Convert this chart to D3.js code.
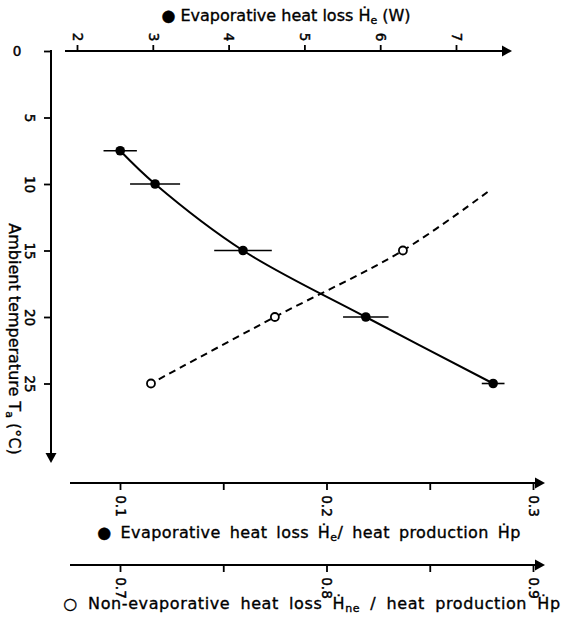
<!DOCTYPE html>
<html>
<head>
<meta charset="utf-8">
<script src="https://cdn.jsdelivr.net/npm/d3@7"></script>
<style>
  html, body { margin: 0; padding: 0; background: #fff; }
  svg { display: block; }
  text { font-family: "DejaVu Sans", "Noto Sans", sans-serif; fill: #000; }
  .ttl { font-size: 16px; stroke: #000; stroke-width: 0.35px; }
  .tk { font-size: 13.5px; stroke: #000; stroke-width: 0.45px; }
</style>
</head>
<body>
<svg id="chart" width="564" height="625"></svg>
<script>
// ---------------- data ----------------
const temps = [7.5, 10, 15, 20, 25];                  // ambient temperature (°C)
const heWatts = [2.57, 3.03, 4.19, 5.81, 7.49];       // evaporative heat loss He (W)
const heErr = [0.22, 0.33, 0.38, 0.30, 0.15];         // ± error (W)
const openTemps = [15, 20, 25];                       // temperatures of open circles
const hneRatio = [0.837, 0.775, 0.715];               // Hne / Hp
const dashTemps = [10.6, 15, 20, 25];                 // dashed trend trace
const dashRatio = [0.878, 0.837, 0.775, 0.715];
const tempTicks = [0, 5, 10, 15, 20, 25];
const wattTicks = [2, 3, 4, 5, 6, 7];
const ratio1Ticks = [0.1, 0.15, 0.2, 0.25, 0.3];
const ratio1Labels = [0.1, 0.2, 0.3];
const ratio2Ticks = [0.7, 0.75, 0.8, 0.85, 0.9];
const ratio2Labels = [0.7, 0.8, 0.9];

// ---------------- scales ----------------
const svg = d3.select("#chart");
const y = d3.scaleLinear().domain([0, 30]).range([51, 450]);
const xW = d3.scaleLinear().domain([2, 7]).range([77, 456]);
const xR1 = d3.scaleLinear().domain([0.1, 0.3]).range([120, 533]);
const xR2 = d3.scaleLinear().domain([0.7, 0.9]).range([120, 533]);

const AX = 51;          // x of temperature axis
const TOPY = 51;        // y of top axis
const B1Y = 483;        // y of first bottom axis
const B2Y = 565;        // y of second bottom axis
const lw = 2;

function arrowRight(x, yy) {
  svg.append("path").attr("d", `M${x - 10},${yy - 5.5}L${x},${yy}L${x - 10},${yy + 5.5}Z`).attr("fill", "#000");
}
function arrowDown(xx, yy) {
  svg.append("path").attr("d", `M${xx - 5.5},${yy - 10}L${xx},${yy}L${xx + 5.5},${yy - 10}Z`).attr("fill", "#000");
}
function styleTicks(g, tf) {
  g.select(".domain").remove();
  g.selectAll(".tick line").attr("stroke-width", 1.8);
  g.selectAll(".tick text")
    .attr("transform", tf)
    .attr("x", 0).attr("y", 0).attr("dy", "0.35em")
    .attr("text-anchor", "middle")
    .attr("class", "tk");
  g.attr("font-family", null).attr("font-size", null);
}

// ---------------- top axis (W) ----------------
svg.append("line").attr("x1", 65).attr("x2", 505).attr("y1", TOPY).attr("y2", TOPY)
  .attr("stroke", "#000").attr("stroke-width", lw);
arrowRight(512, TOPY);
const topAxis = svg.append("g").attr("transform", `translate(0,${TOPY})`)
  .call(d3.axisTop(xW).tickValues(wattTicks).tickSize(6).tickSizeOuter(0).tickFormat(d3.format("d")));
styleTicks(topAxis, "translate(0,-14) rotate(90)");

// top title
const tt = svg.append("text").attr("class", "ttl").attr("x", 286).attr("y", 21).attr("text-anchor", "middle");
tt.append("tspan").text("● Evaporative heat loss Ḣ");
tt.append("tspan").text("e").style("font-size", "11px").attr("dy", 3);
tt.append("tspan").text(" (W)").attr("dy", -3);

// ---------------- left axis (temperature) ----------------
svg.append("line").attr("x1", AX).attr("x2", AX).attr("y1", y(0) - 1).attr("y2", 454)
  .attr("stroke", "#000").attr("stroke-width", lw);
arrowDown(AX, 463);
const leftAxis = svg.append("g").attr("transform", `translate(${AX},0)`)
  .call(d3.axisLeft(y).tickValues(tempTicks).tickSize(7).tickSizeOuter(0).tickFormat(d3.format("d")));
styleTicks(leftAxis, d => d === 0 ? "translate(-34,0)" : "translate(-21,0) rotate(90)");

const yt = svg.append("text").attr("class", "ttl").attr("transform", `translate(9,339) rotate(90)`).attr("text-anchor", "middle");
yt.append("tspan").text("Ambient temperature T");
yt.append("tspan").text("a").style("font-size", "11px").attr("dy", 3);
yt.append("tspan").text(" (°C)").attr("dy", -3);

// ---------------- bottom axis 1 (He/Hp) ----------------
svg.append("line").attr("x1", 70).attr("x2", 537).attr("y1", B1Y).attr("y2", B1Y)
  .attr("stroke", "#000").attr("stroke-width", lw);
arrowRight(545, B1Y);
const b1 = svg.append("g").attr("transform", `translate(0,${B1Y})`)
  .call(d3.axisBottom(xR1).tickValues(ratio1Ticks).tickSize(7).tickSizeOuter(0)
    .tickFormat(d => ratio1Labels.some(v => Math.abs(v - d) < 1e-9) ? d3.format(".1f")(d) : ""));
styleTicks(b1, "translate(0,23) rotate(90)");

const bt1 = svg.append("text").attr("class", "ttl").attr("x", 309).attr("y", 538).attr("text-anchor", "middle")
  .style("letter-spacing", "0.4px").style("word-spacing", "3.5px");
bt1.append("tspan").text("● Evaporative heat loss Ḣ");
bt1.append("tspan").text("e").style("font-size", "11px").attr("dy", 3);
bt1.append("tspan").text("/ heat production Ḣp").attr("dy", -3);

// ---------------- bottom axis 2 (Hne/Hp) ----------------
svg.append("line").attr("x1", 70).attr("x2", 537).attr("y1", B2Y).attr("y2", B2Y)
  .attr("stroke", "#000").attr("stroke-width", lw);
arrowRight(545, B2Y);
const b2 = svg.append("g").attr("transform", `translate(0,${B2Y})`)
  .call(d3.axisBottom(xR2).tickValues(ratio2Ticks).tickSize(7).tickSizeOuter(0)
    .tickFormat(d => ratio2Labels.some(v => Math.abs(v - d) < 1e-9) ? d3.format(".1f")(d) : ""));
styleTicks(b2, "translate(0,23) rotate(90)");

const bt2 = svg.append("text").attr("class", "ttl").attr("x", 312).attr("y", 609).attr("text-anchor", "middle")
  .style("letter-spacing", "0.6px").style("word-spacing", "4.5px");
bt2.append("tspan").text("○ Non-evaporative heat loss Ḣ");
bt2.append("tspan").text("ne").style("font-size", "11px").attr("dy", 3);
bt2.append("tspan").text(" / heat production Ḣp").attr("dy", -3);

// ---------------- data marks ----------------
const filled = temps.map((t, i) => ({ t, w: heWatts[i], e: heErr[i] }));
const open = openTemps.map((t, i) => ({ t, r: hneRatio[i] }));
const dash = dashTemps.map((t, i) => ({ t, r: dashRatio[i] }));

// dashed trend
svg.append("path").datum(dash)
  .attr("d", d3.line().x(d => xR2(d.r)).y(d => y(d.t)).curve(d3.curveCatmullRom))
  .attr("fill", "none").attr("stroke", "#000").attr("stroke-width", 2)
  .attr("stroke-dasharray", "7,5");

// solid line through filled points
svg.append("path").datum(filled)
  .attr("d", d3.line().x(d => xW(d.w)).y(d => y(d.t)).curve(d3.curveCatmullRom))
  .attr("fill", "none").attr("stroke", "#000").attr("stroke-width", 2);

// error bars
svg.selectAll(".err").data(filled).join("line").attr("class", "err")
  .attr("x1", d => xW(d.w - d.e)).attr("x2", d => xW(d.w + d.e))
  .attr("y1", d => y(d.t)).attr("y2", d => y(d.t))
  .attr("stroke", "#000").attr("stroke-width", 1.6);

// filled circles
svg.selectAll(".fpt").data(filled).join("circle").attr("class", "fpt")
  .attr("cx", d => xW(d.w)).attr("cy", d => y(d.t)).attr("r", 4.8).attr("fill", "#000");

// open circles
svg.selectAll(".opt").data(open).join("circle").attr("class", "opt")
  .attr("cx", d => xR2(d.r)).attr("cy", d => y(d.t)).attr("r", 4)
  .attr("fill", "#fff").attr("stroke", "#000").attr("stroke-width", 1.8);
</script>
</body>
</html>
